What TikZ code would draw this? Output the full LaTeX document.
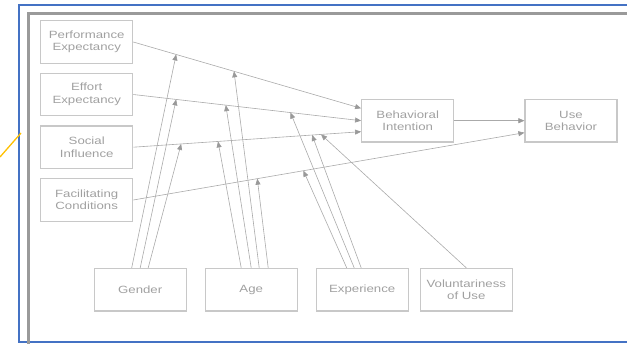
\documentclass[tikz,border=0pt]{standalone}
\usepackage{fontspec}
\newfontfamily\diagfont{Liberation Sans}[FakeStretch=1.26]
\usetikzlibrary{arrows.meta}
\definecolor{frameblue}{HTML}{4472C4}
\definecolor{framegray}{HTML}{9A9A9A}
\definecolor{boxgray}{HTML}{C8C8C8}
\definecolor{txtgray}{HTML}{A0A0A0}
\definecolor{linegray}{HTML}{AAAAAA}
\definecolor{tipgray}{HTML}{999999}
\definecolor{marker}{HTML}{FFC000}

\begin{document}
\begin{tikzpicture}[x=1pt,y=-1pt,
	box/.style={draw=boxgray,line width=1.2pt,minimum width=92pt,minimum height=42.5pt,inner sep=1pt,align=center,text=txtgray,font=\diagfont\fontsize{10.5}{12.5}\selectfont},
	link/.style={draw=linegray,line width=0.6pt,-{Triangle[length=6pt,width=5pt,color=tipgray]}}]
		\useasboundingbox (0,0) rectangle (627,344);
		% frame
		\draw [frameblue,line width=2pt,line cap=butt] (627,5.5) -- (19,5.5) -- (19,342.5) -- (627,342.5);
		\draw [framegray,line width=3pt,line cap=butt] (28,344) -- (28,14) -- (627,14);
		\draw [marker,line width=1.3pt] (0,157) -- (21,133);

		% constructs
		\node[box] (PE) at (86.7,42) {Performance\\Expectancy};
		\node[box] (EE) at (86.7,94.5) {Effort\\Expectancy};
		\node[box] (SI) at (86.7,147.2) {Social\\Influence};
		\node[box] (FC) at (86.7,200) {Facilitating\\Conditions};
		\node[box] (BI) at (407.7,120.7) {Behavioral\\Intention};
		\node[box] (UB) at (571,120.7) {Use\\Behavior};

		% moderators
		\node[box] (G) at (140.2,289.7) {Gender};
		\node[box] (A) at (251.2,289.7) {Age};
		\node[box] (X) at (362.2,289.7) {Experience};
		\node[box] (V) at (466.3,289.7) {Voluntariness\\of Use};

		% main paths
		\draw[link] (PE.east) -- ([yshift=12.4pt]BI.west) coordinate[pos=0.188] (pe1) coordinate[pos=0.442] (pe2);
		\draw[link] (EE.east) -- (BI.west) coordinate[pos=0.188] (ee1) coordinate[pos=0.406] (ee2) coordinate[pos=0.69] (ee3);
		\draw[link] (SI.east) -- ([yshift=-11pt]BI.west) coordinate[pos=0.21] (si1) coordinate[pos=0.372] (si2) coordinate[pos=0.785] (si3) coordinate[pos=0.824] (si4);
		\draw[link] (FC.east) -- ([yshift=-12pt]UB.west) coordinate[pos=0.317] (fc1) coordinate[pos=0.435] (fc2);
		\draw[link] (BI.east) -- (UB.west);

		% moderating effects
		\draw[link] ([xshift=-8.5pt]G.north) -- (pe1);
		\draw[link] (G.north) -- (ee1);
		\draw[link] ([xshift=8pt]G.north) -- (si1);
		\draw[link] ([xshift=-10pt]A.north) -- (si2);
		\draw[link] (A.north) -- (ee2);
		\draw[link] ([xshift=8pt]A.north) -- (pe2);
		\draw[link] ([xshift=17pt]A.north) -- (fc1);
		\draw[link] ([xshift=-15.5pt]X.north) -- (fc2);
		\draw[link] ([xshift=-8pt]X.north) -- (ee3);
		\draw[link] ([xshift=-1pt]X.north) -- (si3);
		\draw[link] (V.north) -- (si4);
	\end{tikzpicture}
\end{document}
